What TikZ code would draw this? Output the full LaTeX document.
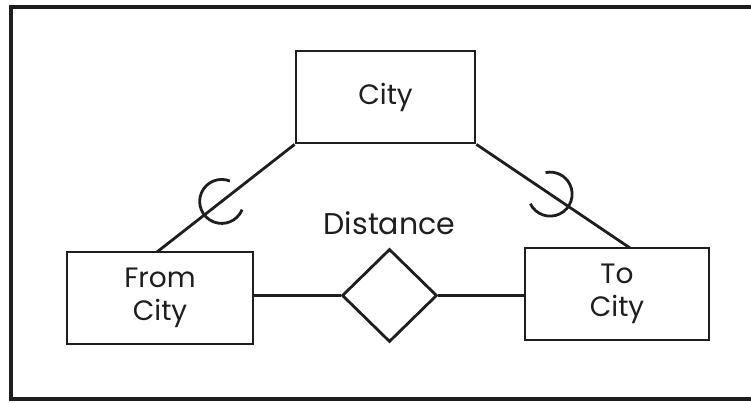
\documentclass[tikz,border=0pt]{standalone}
\usepackage{fontspec}
\setmainfont{Poppins}
\usetikzlibrary{shapes.geometric,calc}
\definecolor{ink}{HTML}{1E1E1E}
\tikzset{
  ent/.style={draw=ink,line width=2.8pt,rectangle,inner sep=0pt,minimum height=92pt,align=center,font=\fontsize{28}{33}\selectfont,text=ink},
  rel/.style={draw=ink,line width=2.8pt,diamond,inner sep=0pt,minimum width=95pt,minimum height=93pt},
  conn/.style={draw=ink,line width=2.8pt},
  ring/.style={draw=ink,line width=2.8pt},
  frame/.style={draw=ink,line width=4pt},
  lbl/.style={font=\fontsize{30}{34}\selectfont,text=ink}
}
\begin{document}
\begin{tikzpicture}[x=1pt,y=1pt]
\useasboundingbox (0,0) rectangle (751,403);
\fill[white] (0,0) rectangle (751,403);
% frame
\coordinate (ftr) at (751,396);
\coordinate (ftl) at (10.5,396);
\coordinate (fbl) at (10.5,3.5);
\coordinate (fbr) at (751,3.5);
\draw[frame] (ftr) -- (ftl) -- (fbl) -- (fbr);
% entities
\node[ent,minimum width=179pt] (city) at (385.5,306) {City};
\node[ent,minimum width=186pt] (fromcity) at (160,105) {From\\City};
\node[ent,minimum width=184pt] (tocity) at (617,109) {To\\City};
\node[rel] (dist) at (389.5,107.5) {};
\node[lbl] (distlbl) at (389.5,180) {Distance};
% connectors
\coordinate (fctop) at (157,151);
\coordinate (tctop) at (630,155);
\draw[conn] (city.south west) -- (fctop);
\draw[conn] (city.south east) -- (tctop);
\draw[conn] (dist.west -| fromcity.east) -- (dist.west);
\draw[conn] (dist.east) -- (dist.east -| tocity.west);
% rings
\coordinate (c1) at ($(city.south west)!0.53!(fctop)$);
\coordinate (c2) at ($(city.south east)!0.48!(tctop)$);
\draw[ring] ([shift={(68:22)}]c1) arc[start angle=68,end angle=338,radius=22];
\draw[ring] ([shift={(-154:22)}]c2) arc[start angle=-154,end angle=102,radius=22];
\end{tikzpicture}
\end{document}
